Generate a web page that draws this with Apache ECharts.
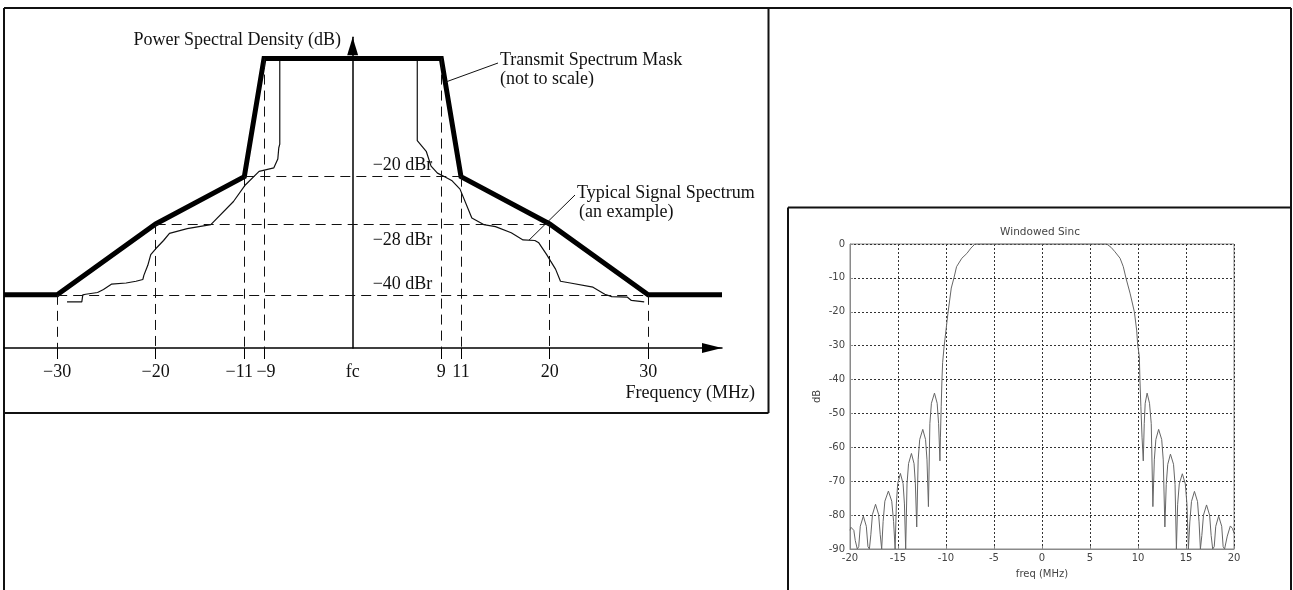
<!DOCTYPE html>
<html><head><meta charset="utf-8">
<script src="https://cdn.jsdelivr.net/npm/echarts@6.0.0/dist/echarts.min.js"></script>
<style>html,body{margin:0;padding:0;background:#fff}#c{width:1293px;height:590px}</style>
</head><body><div id="c"></div><script>
// ---- Transmit spectrum mask (frequency in MHz, level in dBr) ----
const maskFreq = [-35.4, -30, -20, -11, -9, 9, 11, 20, 30, 37.5];
const maskDb   = [-40, -40, -28, -20, 0, 0, -20, -28, -40, -40];
const refLevels = [-20, -28, -40];
const refLabels = ['\u221220 dBr', '\u221228 dBr', '\u221240 dBr'];
const xTicks = [-30, -20, -11, -9, 0, 9, 11, 20, 30];

// ---- Typical signal spectrum (an example) ----
const sigFreq = [-29.0, -27.5, -27.4, -27.1, -25.9, -25.3, -24.5, -23.0, -22.0, -21.3, -21.2, -20.8, -20.5, -20.0, -19.2, -18.6, -16.8, -14.4, -12.1, -10.9, -9.5, -8.0, -7.6, -7.5, -7.4, -7.4,
  6.56, 6.56, 6.66, 7.47, 7.96, 8.61, 9.34, 10.1, 10.9, 12.1, 13.3, 14.5, 16.1, 17.3, 18.5, 18.9, 19.7, 20.1, 20.6, 21.1, 22.1, 24.4, 25.6, 26.3, 27.9, 28.3, 29.6];
const sigDb = [-41.2, -41.2, -40.0, -39.9, -39.6, -39.1, -38.2, -38.0, -37.7, -37.4, -36.7, -35.0, -33.2, -32.2, -30.8, -29.6, -28.8, -28.1, -24.2, -21.4, -19.1, -18.5, -17.0, -15.1, -14.5, 0,
  0, -13.9, -13.9, -15.7, -18.2, -19.4, -20.0, -20.7, -22.1, -27.0, -28.1, -28.45, -29.5, -30.7, -30.8, -31.2, -33.2, -34.3, -35.65, -37.7, -38.0, -38.7, -39.9, -40.3, -40.4, -40.95, -41.2];

// ---- Windowed sinc (freq in MHz, dB) ----
const sincFreq = [-20.00, -19.90, -19.76, -19.60, -19.45, -19.24, -19.09, -18.93, -18.61, -18.30, -18.13, -17.98, -17.83, -17.66, -17.34, -17.02, -16.85, -16.70,
  -16.55, -16.37, -16.00, -15.65, -15.46, -15.30, -15.17, -15.03, -14.75, -14.47, -14.33, -14.20, -14.06, -13.90, -13.60, -13.33, -13.19, -13.05,
  -12.90, -12.74, -12.42, -12.13, -11.98, -11.83, -11.68, -11.52, -11.20, -10.92, -10.77, -10.63, -10.58, -10.50, -10.42, -10.35, -10.20, -10.00,
  -9.80, -9.45, -9.17, -8.90, -8.35, -7.83, -7.40, -6.98, 6.74, 7.20, 7.60, 8.13, 8.47, 8.75, 9.17, 9.62, 9.86, 9.97, 10.14, 10.20, 10.30, 10.42,
  10.55, 10.65, 10.75, 10.95, 11.20, 11.38, 11.55, 11.70, 11.86, 12.15, 12.47, 12.63, 12.80, 12.94, 13.10, 13.38, 13.70, 13.86, 14.00, 14.13, 14.30,
  14.62, 14.93, 15.10, 15.25, 15.40, 15.57, 15.88, 16.20, 16.36, 16.50, 16.65, 16.82, 17.14, 17.46, 17.62, 17.78, 17.94, 18.10, 18.40, 18.72, 18.87,
  19.02, 19.30, 19.62, 19.85, 20.00];
const sincDb = [-84.5, -83.6, -83.2, -84.5, -87.5, -90, -89.3, -83.3, -80.3, -83.3, -89.3, -90, -85.8, -79.8, -76.8, -79.8, -85.8, -90,
  -81.9, -75.9, -72.9, -75.9, -81.9, -90, -76.7, -70.7, -67.7, -70.7, -76.7, -90, -70.8, -64.8, -61.8, -64.8, -70.8, -83.5,
  -63.7, -57.7, -54.7, -57.7, -63.7, -77.5, -53.0, -47.0, -44.0, -47.0, -53.0, -64.0, -57.0, -48.0, -40.0, -35.0, -30.3, -25.4,
  -20.5, -13.0, -10.0, -6.7, -4.2, -2.8, -1.2, 0, 0, -1.0, -2.3, -4.2, -6.7, -10.1, -14.5, -20.0, -25.4, -29.8, -33.2, -40.0, -48.0, -57.0,
  -64.0, -53.0, -47.0, -44.0, -47.0, -53.0, -77.5, -63.7, -57.7, -54.7, -57.7, -63.7, -83.5, -71.0, -65.0, -62.0, -65.0, -71.0, -90, -76.8, -70.8,
  -67.8, -70.8, -76.8, -90, -82.0, -76.0, -73.0, -76.0, -82.0, -90, -86.0, -80.0, -77.0, -80.0, -86.0, -90, -89.3, -83.3, -80.3, -83.3, -89.3,
  -90, -86.2, -83.2, -84.0, -85.3];

// ---- build ----
const X0MIN = -35.4, X0MAX = 37.5, Y0MIN = -49, Y0MAX = 3.6;
const SERIF = '"Liberation Serif", "Times New Roman", serif';
const SANS = '"DejaVu Sans", sans-serif';
const pairs = (a, b) => a.map((v, i) => [v, b[i]]);
const knees = pairs(maskFreq, maskDb).slice(1, -1);
const refLines = [];
knees.forEach(([f, l]) => refLines.push([{ coord: [f, l] }, { coord: [f, Y0MIN] }]));
refLevels.forEach(l => {
  const fs = knees.filter(k => k[1] === l).map(k => k[0]);
  refLines.push([{ coord: [Math.min(...fs), l] }, { coord: [Math.max(...fs), l] }]);
});
const labelShift = { '-20': -11, '-28': 16, '-40': -11 };

function tickFmt(v) {
  if (v === 0) return 'fc';
  const s = v < 0 ? '\u2212' + Math.abs(v) : String(v);
  if (v === -11) return '{l|' + s + '}';
  if (v === -9) return '{r|' + s + '}';
  return s;
}

const frame = [[4, 8, 1291, 8], [4, 8, 4, 590], [768.5, 8, 768.5, 413], [4, 413, 768.5, 413],
  [1291, 8, 1291, 590], [788, 207.5, 1291, 207.5], [788, 207.5, 788, 590]];
const txt = (x, y, text, align, font, fill) => ({ type: 'text', x, y, silent: true,
  style: { text, font: font || ('18px ' + SERIF), fill: fill || '#111', align, verticalAlign: 'middle' } });

const baseGraphic = frame.map(([x1, y1, x2, y2]) => ({ type: 'line', silent: true, shape: { x1, y1, x2, y2 },
    style: { stroke: '#111', lineWidth: 2 } })).concat([
  txt(341, 40, 'Power Spectral Density (dB)', 'right'),
  txt(755, 393, 'Frequency (MHz)', 'right'),
  txt(500, 60, 'Transmit Spectrum Mask', 'left'),
  txt(500, 79, '(not to scale)', 'left'),
  txt(577, 193, 'Typical Signal Spectrum', 'left'),
  txt(579, 212, '(an example)', 'left'),
  txt(1040, 232, 'Windowed Sinc', 'center', '10.5px ' + SANS, '#444')
]);

const chart = echarts.init(document.getElementById('c'));
chart.setOption({
  animation: false,
  backgroundColor: '#fff',
  grid: [
    { left: 4, top: 37.3, width: 718, height: 310.7 },
    { left: 850, top: 244, width: 384, height: 305, show: true, borderColor: '#8a8a8a', borderWidth: 1 }
  ],
  xAxis: [
    { type: 'value', gridIndex: 0, min: X0MIN, max: X0MAX,
      axisLine: { show: true, onZero: false, symbol: ['none', 'triangle'], symbolSize: [10, 20], symbolOffset: [0, -10],
        lineStyle: { color: '#000', width: 1.5 } },
      axisTick: { show: true, customValues: xTicks.filter(v => v !== 0), length: 11, lineStyle: { color: '#000', width: 1 } },
      axisLabel: { show: true, customValues: xTicks, margin: 15, formatter: tickFmt, fontFamily: SERIF, fontSize: 18, color: '#111',
        rich: { l: { padding: [0, 10, 0, 0], fontFamily: SERIF, fontSize: 18, color: '#111' },
                r: { padding: [0, 0, 0, 4], fontFamily: SERIF, fontSize: 18, color: '#111' } } },
      splitLine: { show: false } },
    { type: 'value', gridIndex: 1, min: -20, max: 20, interval: 5,
      axisLine: { show: true, onZero: false, lineStyle: { color: '#8a8a8a', width: 1 } },
      axisTick: { show: true, inside: true, length: 3, lineStyle: { color: '#8a8a8a' } },
      axisLabel: { margin: 4, fontFamily: SANS, fontSize: 10, color: '#444', showMinLabel: true, showMaxLabel: true },
      splitLine: { show: true, lineStyle: { type: [2, 2], color: '#333', width: 1 } },
      name: 'freq (MHz)', nameLocation: 'middle', nameGap: 20, nameTextStyle: { fontFamily: SANS, fontSize: 10, color: '#444' } }
  ],
  yAxis: [
    { type: 'value', gridIndex: 0, min: Y0MIN, max: Y0MAX,
      axisLine: { show: true, onZero: true, symbol: ['none', 'triangle'], symbolSize: [11, 18], symbolOffset: [0, -9],
        lineStyle: { color: '#000', width: 1.5 } },
      axisTick: { show: false }, axisLabel: { show: false }, splitLine: { show: false } },
    { type: 'value', gridIndex: 1, min: -90, max: 0, interval: 10,
      axisLine: { show: true, onZero: false, lineStyle: { color: '#8a8a8a', width: 1 } },
      axisTick: { show: true, inside: true, length: 3, lineStyle: { color: '#8a8a8a' } },
      axisLabel: { margin: 5, fontFamily: SANS, fontSize: 10, color: '#444', showMinLabel: true, showMaxLabel: true },
      splitLine: { show: true, lineStyle: { type: [2, 2], color: '#333', width: 1 } },
      name: 'dB', nameLocation: 'middle', nameGap: 28, nameRotate: 90, nameTextStyle: { fontFamily: SANS, fontSize: 10, color: '#444' } }
  ],
  series: [
    { name: 'refs', type: 'line', xAxisIndex: 0, yAxisIndex: 0, data: pairs(maskFreq, maskDb), showSymbol: false, silent: true,
      lineStyle: { opacity: 0 }, z: 1,
      markLine: { silent: true, symbol: ['none', 'none'], label: { show: false },
        lineStyle: { type: [10, 6], color: '#111', width: 1 }, data: refLines } },
    { name: 'leaders', type: 'line', xAxisIndex: 0, yAxisIndex: 0, data: pairs(maskFreq, maskDb), showSymbol: false, silent: true,
      lineStyle: { opacity: 0 }, z: 2,
      markLine: { silent: true, symbol: ['none', 'none'], label: { show: false },
        lineStyle: { type: 'solid', color: '#111', width: 1 },
        data: [[{ x: 498, y: 63 }, { coord: [9.4, -4] }], [{ x: 575, y: 195 }, { coord: [17.9, -30.75] }]] } },
    { name: 'Typical Signal Spectrum', type: 'line', xAxisIndex: 0, yAxisIndex: 0, data: pairs(sigFreq, sigDb),
      showSymbol: false, lineStyle: { color: '#111', width: 1.2 }, z: 3 },
    { name: 'Transmit Spectrum Mask', type: 'line', xAxisIndex: 0, yAxisIndex: 0, data: pairs(maskFreq, maskDb),
      showSymbol: false, lineStyle: { color: '#000', width: 5, join: 'miter' }, z: 4 },
    { name: 'Windowed Sinc', type: 'line', xAxisIndex: 1, yAxisIndex: 1, data: pairs(sincFreq, sincDb),
      showSymbol: false, lineStyle: { color: '#666', width: 1 }, z: 3 }
  ],
  graphic: baseGraphic
});

// level labels placed through the chart's own scale
const levelTexts = refLevels.map((l, i) => {
  const p = chart.convertToPixel({ xAxisIndex: 0, yAxisIndex: 0 }, [0, l]);
  return txt(p[0] + 20, p[1] + labelShift[String(l)], refLabels[i], 'left');
});
chart.setOption({ graphic: baseGraphic.concat(levelTexts) });
</script></body></html>
